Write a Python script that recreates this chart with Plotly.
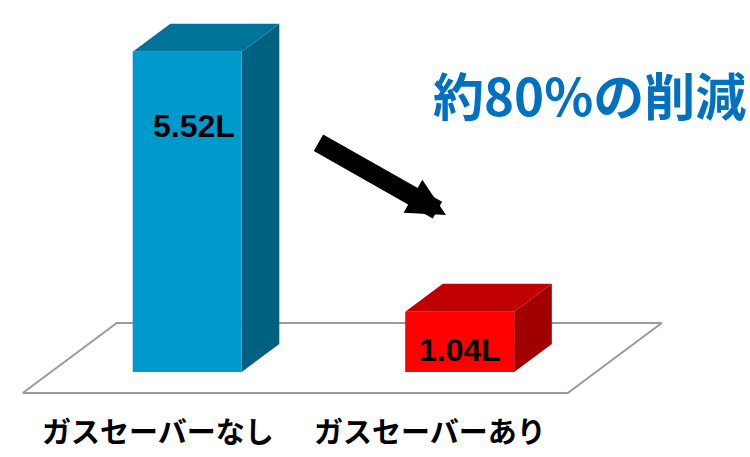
import plotly.graph_objects as go

# --- data ---
categories = ["ガスセーバーなし", "ガスセーバーあり"]
values = [5.52, 1.04]
value_labels = [f"{v:.2f}L" for v in values]
headline = "約80%の削減"

front_colors = ["rgb(0,153,204)", "rgb(255,0,0)"]
top_colors = ["rgb(0,115,155)", "rgb(192,0,0)"]
side_colors = ["rgb(0,96,128)", "rgb(160,0,0)"]

# --- pseudo-3D projection (oblique) ---
DEPTH_X = 0.345   # category units shifted per unit of depth
DEPTH_Y = 1.207   # value units shifted per unit of depth
BAR_HALF = 0.2
D_FRONT, D_BACK = 0.3, 0.7


def proj(x, v, d):
    return x + DEPTH_X * d, v + DEPTH_Y * d


def poly(points, fill, line_color=None, line_width=0):
    xs = [p[0] for p in points] + [points[0][0]]
    ys = [p[1] for p in points] + [points[0][1]]
    return go.Scatter(
        x=xs, y=ys, mode="lines", fill="toself", fillcolor=fill,
        line=dict(color=line_color or fill, width=line_width),
        hoverinfo="skip", showlegend=False,
    )


fig = go.Figure()

# floor plane (value = 0)
floor = [proj(-0.5, 0, 0), proj(1.5, 0, 0), proj(1.5, 0, 1), proj(-0.5, 0, 1)]
fig.add_trace(poly(floor, "white", "rgb(155,155,155)", 2))

# bars: side, top, front faces
for i, v in enumerate(values):
    x0, x1 = i - BAR_HALF, i + BAR_HALF
    side = [proj(x1, 0, D_FRONT), proj(x1, v, D_FRONT), proj(x1, v, D_BACK), proj(x1, 0, D_BACK)]
    top = [proj(x0, v, D_FRONT), proj(x1, v, D_FRONT), proj(x1, v, D_BACK), proj(x0, v, D_BACK)]
    front = [proj(x0, 0, D_FRONT), proj(x1, 0, D_FRONT), proj(x1, v, D_FRONT), proj(x0, v, D_FRONT)]
    fig.add_trace(poly(side, side_colors[i]))
    fig.add_trace(poly(top, top_colors[i]))
    fig.add_trace(poly(front, front_colors[i]))

# value labels on the bars
label_pos = [(0.128, 4.61), (1.105, 0.75)]
for (lx, ly), txt in zip(label_pos, value_labels):
    fig.add_annotation(
        x=lx, y=ly, xref="x", yref="y", text=f"<b>{txt}</b>", showarrow=False,
        font=dict(family="Liberation Sans, Arial", size=32, color="black"),
        xanchor="center", yanchor="middle",
    )

# category labels
for i, c in enumerate(categories):
    fig.add_annotation(
        x=i - 0.005, y=-0.64, xref="x", yref="y", text=f"<b>{c}</b>", showarrow=False,
        font=dict(family="Noto Sans CJK JP", size=29, color="black"),
        xanchor="center", yanchor="middle",
    )

# headline
fig.add_annotation(
    x=589.5 / 750, y=1 - 94 / 457, xref="paper", yref="paper",
    text=f"<b>{headline}</b>", showarrow=False,
    font=dict(family="Noto Sans CJK JP", size=51, color="rgb(0,112,192)"),
    xanchor="center", yanchor="middle",
)

# trend arrow
fig.add_annotation(
    x=446 / 750, y=1 - 215 / 457, xref="paper", yref="paper",
    ax=-129, ay=-73, text="", showarrow=True,
    arrowhead=2, arrowsize=0.4, arrowwidth=19, arrowcolor="black",
)

W, H = 750, 457
PX_PER_CAT, PX_PER_VAL = 272.5, 58.0
X0_PX, Y0_PX = 159.0, 393.0
fig.update_layout(
    width=W, height=H,
    margin=dict(l=0, r=0, t=0, b=0),
    paper_bgcolor="white", plot_bgcolor="white",
    xaxis=dict(range=[-X0_PX / PX_PER_CAT, (W - X0_PX) / PX_PER_CAT], visible=False, fixedrange=True),
    yaxis=dict(range=[-(H - Y0_PX) / PX_PER_VAL, Y0_PX / PX_PER_VAL], visible=False, fixedrange=True),
    showlegend=False,
)

fig.write_html("out.html")
